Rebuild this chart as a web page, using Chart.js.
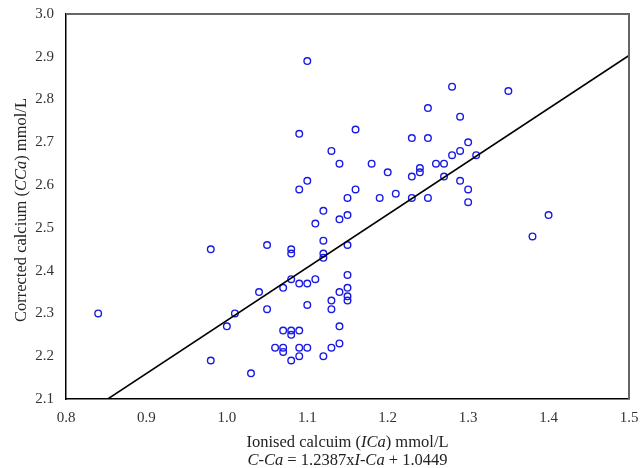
<!DOCTYPE html>
<html>
<head>
<meta charset="utf-8">
<script src="https://cdn.jsdelivr.net/npm/chart.js@4"></script>
<style>
  html, body { margin: 0; padding: 0; background: #fff; }
  #wrap { width: 641px; height: 468px; position: relative; }
</style>
</head>
<body>
<div id="wrap"><canvas id="c"></canvas></div>
<script>
// Ionised calcium (x) values
const ionisedCa = [
  0.84, 0.98, 0.98, 1.00, 1.01, 1.03, 1.04, 1.05, 1.05, 1.06,
  1.07, 1.07, 1.07, 1.07, 1.08, 1.08, 1.08, 1.08, 1.08, 1.08,
  1.09, 1.09, 1.09, 1.09, 1.09, 1.09, 1.10, 1.10, 1.10, 1.10,
  1.10, 1.11, 1.11, 1.12, 1.12, 1.12, 1.12, 1.12, 1.13, 1.13,
  1.13, 1.13, 1.14, 1.14, 1.14, 1.14, 1.14, 1.15, 1.15, 1.15,
  1.15, 1.15, 1.15, 1.15, 1.16, 1.16, 1.18, 1.19, 1.20, 1.21,
  1.23, 1.23, 1.23, 1.24, 1.24, 1.25, 1.25, 1.25, 1.26, 1.27,
  1.27, 1.28, 1.28, 1.29, 1.29, 1.29, 1.30, 1.30, 1.30, 1.31,
  1.35, 1.38, 1.40
];
// Corrected calcium (y) values
const correctedCa = [
  2.30, 2.45, 2.19, 2.27, 2.30, 2.16, 2.35, 2.46, 2.31, 2.22,
  2.36, 2.26, 2.22, 2.21, 2.45, 2.44, 2.38, 2.26, 2.25, 2.19,
  2.72, 2.59, 2.37, 2.26, 2.22, 2.20, 2.89, 2.61, 2.37, 2.32,
  2.22, 2.51, 2.38, 2.54, 2.47, 2.44, 2.43, 2.20, 2.68, 2.33,
  2.31, 2.22, 2.65, 2.52, 2.35, 2.27, 2.23, 2.57, 2.53, 2.46,
  2.39, 2.36, 2.34, 2.33, 2.73, 2.59, 2.65, 2.57, 2.63, 2.58,
  2.71, 2.62, 2.57, 2.64, 2.63, 2.78, 2.71, 2.57, 2.65, 2.65,
  2.62, 2.83, 2.67, 2.76, 2.68, 2.61, 2.70, 2.59, 2.56, 2.67,
  2.82, 2.48, 2.53
];
// Regression line end points
const fitLineX = [0.852, 1.5];
const fitLineY = [2.1, 2.903];

const xTicks = [0.8, 0.9, 1.0, 1.1, 1.2, 1.3, 1.4, 1.5];
const yTicks = [2.1, 2.2, 2.3, 2.4, 2.5, 2.6, 2.7, 2.8, 2.9, 3.0];

const xTitleLine1 = [["Ionised calcuim (", false], ["ICa", true], [") mmol/L", false]];
const xTitleLine2 = [["C-Ca", true], [" = 1.2387x", false], ["I-Ca", true], [" + 1.0449", false]];
const yTitle = [["Corrected calcium (", false], ["CCa", true], [") mmol/L", false]];

const FONT = '"Liberation Serif", "Times New Roman", serif';

function drawRich(ctx, segs, cx, baseY, size, color) {
  let total = 0;
  const widths = segs.map(([t, it]) => {
    ctx.font = (it ? 'italic ' : '') + size + 'px ' + FONT;
    const w = ctx.measureText(t).width;
    total += w;
    return w;
  });
  let x = cx - total / 2;
  ctx.fillStyle = color;
  ctx.textBaseline = 'alphabetic';
  ctx.textAlign = 'left';
  segs.forEach(([t, it], i) => {
    ctx.font = (it ? 'italic ' : '') + size + 'px ' + FONT;
    ctx.fillText(t, x, baseY);
    x += widths[i];
  });
}

const framePlugin = {
  id: 'frame',
  afterDraw(chart) {
    const { ctx, chartArea: a } = chart;
    ctx.save();
    // top and right frame (grey)
    ctx.strokeStyle = '#666';
    ctx.lineWidth = 2;
    ctx.beginPath();
    ctx.moveTo(a.left, a.top);
    ctx.lineTo(a.right, a.top);
    ctx.lineTo(a.right, a.bottom);
    ctx.stroke();
    // titles
    const cx = (a.left + a.right) / 2;
    drawRich(ctx, xTitleLine1, cx, a.bottom + 47.5, 16.5, '#222');
    drawRich(ctx, xTitleLine2, cx, a.bottom + 66, 16.5, '#222');
    ctx.translate(26, a.top + 196);
    ctx.rotate(-Math.PI / 2);
    drawRich(ctx, yTitle, 0, 0, 16.5, '#222');
    ctx.restore();
  }
};

const points = ionisedCa.map((x, i) => ({ x: x, y: correctedCa[i] }));
const fitLine = fitLineX.map((x, i) => ({ x: x, y: fitLineY[i] }));

new Chart(document.getElementById('c'), {
  type: 'scatter',
  data: {
    datasets: [
      {
        label: 'Data',
        data: points,
        pointStyle: 'circle',
        pointRadius: 3.3,
        pointBorderWidth: 1.4,
        pointBorderColor: 'rgb(25,25,230)',
        pointBackgroundColor: 'rgba(255,255,255,0)',
        showLine: false,
        order: 2
      },
      {
        label: 'Fit',
        type: 'line',
        data: fitLine,
        borderColor: '#000',
        borderWidth: 1.5,
        pointRadius: 0,
        fill: false,
        order: 1
      }
    ]
  },
  options: {
    responsive: true,
    maintainAspectRatio: false,
    animation: false,
    events: [],
    layout: { padding: { top: 14, right: 12, left: 0, bottom: 0 } },
    plugins: {
      legend: { display: false },
      tooltip: { enabled: false }
    },
    scales: {
      x: {
        type: 'linear',
        min: 0.8,
        max: 1.5,
        afterBuildTicks: (s) => { s.ticks = xTicks.map(v => ({ value: v })); },
        afterFit: (s) => { s.height = 69; s.paddingLeft = 0; s.paddingRight = 0; },
        grid: { display: false, drawTicks: false },
        border: { display: true, color: '#000', width: 1.5 },
        ticks: {
          color: '#333',
          padding: 10,
          font: { family: FONT, size: 15 },
          callback: (v) => Number(v).toFixed(1),
          maxRotation: 0
        }
      },
      y: {
        type: 'linear',
        min: 2.1,
        max: 3.0,
        afterBuildTicks: (s) => { s.ticks = yTicks.map(v => ({ value: v })); },
        afterFit: (s) => { s.width = 66; s.paddingTop = 0; s.paddingBottom = 0; },
        grid: { display: false, drawTicks: false },
        border: { display: true, color: '#000', width: 1.5 },
        ticks: {
          color: '#333',
          padding: 12,
          font: { family: FONT, size: 15 },
          callback: (v) => Number(v).toFixed(1)
        }
      }
    }
  },
  plugins: [framePlugin]
});
</script>
</body>
</html>
